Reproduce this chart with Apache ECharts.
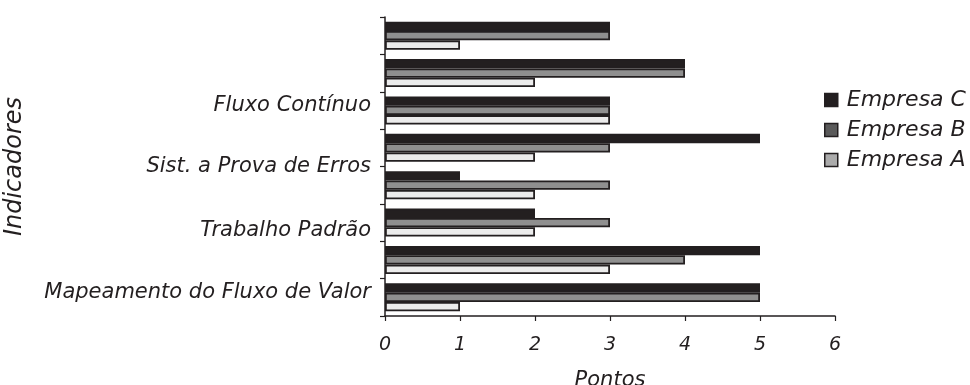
<!DOCTYPE html>
<html>
<head>
<meta charset="utf-8">
<script src="https://cdn.jsdelivr.net/npm/echarts@6/dist/echarts.min.js"></script>
<style>
  html, body { margin: 0; padding: 0; background: #fff; }
  #chart { width: 970px; height: 385px; }
</style>
</head>
<body>
<div id="chart"></div>
<script>
// Indicators, listed from the bottom of the axis upward (blank = unlabeled row)
const categories = [
  'Mapeamento do Fluxo de Valor',
  '',
  'Trabalho Padrão',
  '',
  'Sist. a Prova de Erros',
  'Fluxo Contínuo',
  '',
  ''
];
// Scores per company, same order as categories
const empresaA = [1, 3, 2, 2, 2, 3, 2, 1];
const empresaB = [5, 4, 3, 3, 3, 3, 4, 3];
const empresaC = [5, 5, 2, 1, 5, 3, 4, 3];
const xTicks = [0, 1, 2, 3, 4, 5, 6];

const INK = '#231f20';
const FONT = 'DejaVu Sans';

// vertical nudges of the indicator labels (rich-text padding)
const labelStyles = {
  'Mapeamento do Fluxo de Valor': 'up10',
  'Trabalho Padrão': 'down15',
  'Sist. a Prova de Erros': 'down38',
  'Fluxo Contínuo': 'up9'
};
const baseRich = { fontFamily: FONT, fontStyle: 'italic', fontSize: 21, color: INK };
const rich = {
  up10: Object.assign({ padding: [0, 0, 10, 0] }, baseRich),
  down15: Object.assign({ padding: [15, 0, 0, 0] }, baseRich),
  down38: Object.assign({ padding: [38, 0, 0, 0] }, baseRich),
  up9: Object.assign({ padding: [0, 0, 9, 0] }, baseRich)
};

const barBorder = { borderColor: INK, borderWidth: 1.8 };

const chart = echarts.init(document.getElementById('chart'), null, { renderer: 'canvas' });
chart.setOption({
  animation: false,
  backgroundColor: '#ffffff',
  textStyle: { fontFamily: FONT, color: INK },
  grid: { left: 385, right: 135, top: 17, bottom: 69, containLabel: false, outerBoundsMode: 'none' },
  legend: {
    orient: 'vertical',
    left: 819,
    top: 84,
    itemWidth: 13,
    itemHeight: 13,
    itemGap: 8,
    icon: 'rect',
    textStyle: { fontFamily: FONT, fontStyle: 'italic', fontSize: 22, color: INK, padding: [0, 0, 0, 4] },
    data: [
      { name: 'Empresa C', itemStyle: { color: INK, borderColor: INK, borderWidth: 1.5 } },
      { name: 'Empresa B', itemStyle: { color: '#5a5a5a', borderColor: INK, borderWidth: 1.5 } },
      { name: 'Empresa A', itemStyle: { color: '#ababab', borderColor: INK, borderWidth: 1.5 } }
    ]
  },
  xAxis: {
    type: 'value',
    min: xTicks[0],
    max: xTicks[xTicks.length - 1],
    interval: 1,
    name: 'Pontos',
    nameLocation: 'middle',
    nameGap: 54,
    nameTextStyle: { fontFamily: FONT, fontStyle: 'italic', fontSize: 21, color: INK },
    axisLine: { show: true, lineStyle: { color: INK, width: 1.5 } },
    axisTick: { show: true, length: 5, lineStyle: { color: INK, width: 1.2 } },
    axisLabel: { margin: 20, fontFamily: FONT, fontStyle: 'italic', fontSize: 19, color: INK },
    splitLine: { show: false }
  },
  yAxis: {
    type: 'category',
    data: categories,
    name: 'Indicadores',
    nameLocation: 'middle',
    nameGap: 358,
    nameRotate: 90,
    nameTextStyle: { fontFamily: FONT, fontStyle: 'italic', fontSize: 24, color: INK },
    axisLine: { show: true, lineStyle: { color: INK, width: 1.5 } },
    axisTick: { show: true, length: 5, lineStyle: { color: INK, width: 1.2 } },
    axisLabel: {
      interval: 0,
      margin: 14,
      rich: rich,
      formatter: function (v) {
        if (!v) return '';
        return '{' + labelStyles[v] + '|' + v + '}';
      }
    },
    splitLine: { show: false }
  },
  // Empresa C is listed first so it sits at the top of each group
  series: [
    {
      name: 'Empresa C', type: 'bar', data: empresaC,
      barGap: '0%', barCategoryGap: '25%',
      itemStyle: Object.assign({ color: INK }, barBorder)
    },
    {
      name: 'Empresa B', type: 'bar', data: empresaB,
      barGap: '0%', barCategoryGap: '25%',
      itemStyle: Object.assign({ color: '#8f8f8f' }, barBorder)
    },
    {
      name: 'Empresa A', type: 'bar', data: empresaA,
      barGap: '0%', barCategoryGap: '25%',
      itemStyle: Object.assign({ color: '#ececec' }, barBorder)
    }
  ]
});
</script>
</body>
</html>
